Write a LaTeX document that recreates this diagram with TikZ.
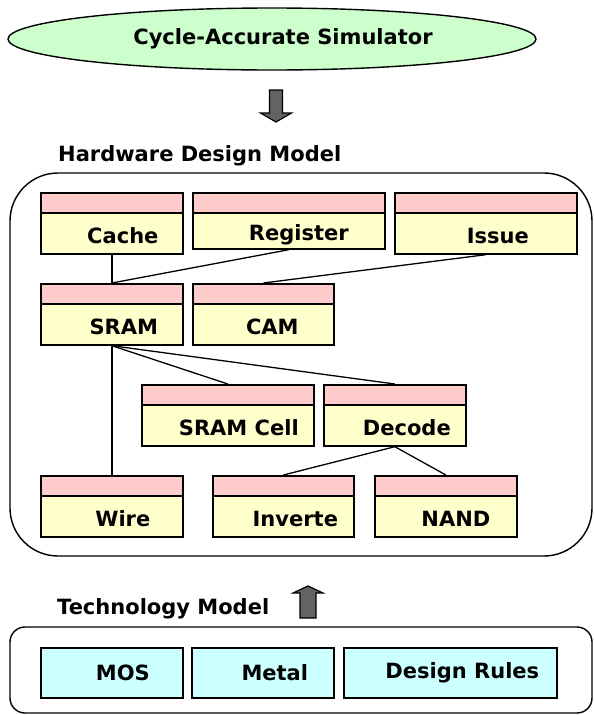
\documentclass[tikz,border=0pt]{standalone}
\usepackage{fontspec}
\setmainfont{DejaVu Sans}
\usetikzlibrary{shapes.geometric}
\definecolor{pinkc}{HTML}{FFCCCC}
\definecolor{yellowc}{HTML}{FFFFCC}
\definecolor{greenc}{HTML}{CCFFCC}
\definecolor{cyanc}{HTML}{CCFFFF}
\definecolor{arrowc}{HTML}{636363}
\begin{document}
\begin{tikzpicture}[x=1pt,y=-1pt,
  every node/.style={font=\fontsize{21}{25}\selectfont\bfseries},
  hdr/.style={draw, fill=pinkc, line width=1.7pt, minimum height=20pt, inner sep=0pt, anchor=north west},
  body/.style={draw, fill=yellowc, line width=1.7pt, minimum height=41pt, inner sep=0pt, anchor=north west,
    text height=21pt, text depth=0pt},
  techbox/.style={draw, fill=cyanc, line width=1.7pt, minimum height=50pt, inner sep=0pt, anchor=north west},
  conn/.style={line width=1.3pt},
  frame/.style={draw, line width=1.4pt},
  blockarrow/.style={draw, fill=arrowc, line width=1.2pt, line join=miter}
]
\useasboundingbox (0,0) rectangle (594,715);

% simulator
\node[ellipse, draw, fill=greenc, line width=1.4pt, minimum width=528pt, minimum height=62pt, inner sep=0pt] (sim) at (272,39) {\kern22pt Cycle-Accurate Simulator};

% down arrow
\draw[blockarrow] (269.5,90) -- (282.5,90) -- (282.5,113) -- (291.5,113) -- (276,122) -- (260.5,113) -- (269.5,113) -- cycle;

% hardware design model
\node[anchor=west, inner sep=0pt] (hwlabel) at (58,156) {Hardware Design Model};
\draw[frame, rounded corners=48pt] (10,173) rectangle (592,556);

% row 1
\node[hdr, minimum width=142pt] (cacheh) at (40,192) {};
\node[body, minimum width=142pt] (cache) at (40,212) {\kern22pt Cache};
\node[hdr, minimum width=192pt] (regh) at (192,192) {};
\node[body, minimum width=192pt, minimum height=36pt, text height=19.5pt] (reg) at (192,212) {\kern20pt Register};
\node[hdr, minimum width=182pt] (issueh) at (394,192) {};
\node[body, minimum width=182pt] (issue) at (394,212) {\kern24pt Issue};

% row 2
\node[hdr, minimum width=142pt] (sramh) at (40,283) {};
\node[body, minimum width=142pt] (sram) at (40,303) {\kern24pt SRAM};
\node[hdr, minimum width=141pt] (camh) at (192,283) {};
\node[body, minimum width=141pt] (cam) at (192,303) {\kern18pt CAM};

% row 3
\node[hdr, minimum width=172pt] (cellh) at (141,384) {};
\node[body, minimum width=172pt] (cell) at (141,404) {\kern22pt SRAM Cell};
\node[hdr, minimum width=142pt] (dech) at (323,384) {};
\node[body, minimum width=142pt] (dec) at (323,404) {\kern24pt Decode};

% row 4
\node[hdr, minimum width=142pt] (wireh) at (40,475) {};
\node[body, minimum width=142pt] (wire) at (40,495) {\kern22pt Wire};
\node[hdr, minimum width=141pt] (invh) at (212,475) {};
\node[body, minimum width=141pt] (inv) at (212,495) {\kern24pt Inverte};
\node[hdr, minimum width=142pt] (nandh) at (374,475) {};
\node[body, minimum width=142pt] (nand) at (374,495) {\kern20pt NAND};

% connectors
\draw[conn] (cache.south) -- (sramh.north);
\draw[conn] (reg.south) -- (sramh.north);
\draw[conn] (issue.south) -- (camh.north);
\draw[conn] (sram.south) -- (cellh.north);
\draw[conn] (sram.south) -- (dech.north);
\draw[conn] (sram.south) -- (wireh.north);
\draw[conn] (dec.south) -- (invh.north);
\draw[conn] (dec.south) -- (nandh.north);

% technology model
\node[anchor=west, inner sep=0pt] (techlabel) at (57,609) {Technology Model};
\draw[blockarrow] (300,618) -- (316,618) -- (316,593) -- (323,593) -- (308,586) -- (293,593) -- (300,593) -- cycle;
\draw[frame, rounded corners=15pt] (10,627) rectangle (592,713);
\node[techbox, minimum width=142pt] (mos) at (40,647) {\kern22pt MOS};
\node[techbox, minimum width=142pt] (metal) at (191,647) {\kern24pt Metal};
\node[techbox, minimum width=213pt] (rules) at (343,647) {\kern24pt Design Rules};
\end{tikzpicture}
\end{document}
